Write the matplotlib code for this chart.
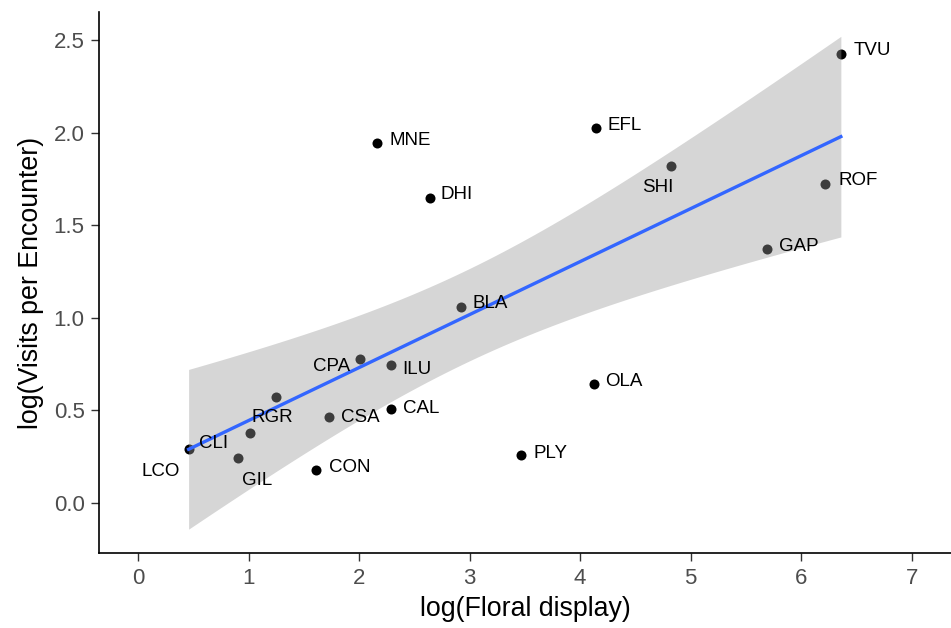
import numpy as np
import matplotlib
matplotlib.use('Agg')
import matplotlib.pyplot as plt

plt.rcParams['font.family'] = ['Liberation Sans', 'DejaVu Sans']

# species codes, log floral display, log visits per encounter
codes = ['TVU', 'EFL', 'MNE', 'SHI', 'ROF', 'DHI', 'GAP', 'BLA', 'CPA', 'ILU',
         'OLA', 'CAL', 'CSA', 'RGR', 'CLI', 'GIL', 'LCO', 'CON', 'PLY']
floral = [6.358, 4.142, 2.161, 4.823, 6.219, 2.643, 5.689, 2.921, 2.010, 2.291,
          4.121, 2.288, 1.724, 1.246, 1.015, 0.901, 0.458, 1.606, 3.467]
visits = [2.423, 2.026, 1.942, 1.820, 1.722, 1.645, 1.370, 1.058, 0.776, 0.745,
          0.641, 0.508, 0.463, 0.574, 0.380, 0.245, 0.292, 0.177, 0.259]

# label placement (pixels from point: dx, dy of text centre, alignment)
label_pos = {
    'TVU': (12.6, 6, 'left'), 'EFL': (11.6, 4.7, 'left'), 'MNE': (12.6, 5, 'left'),
    'SHI': (-13, -19, 'center'), 'ROF': (13, 5.7, 'left'), 'DHI': (10.3, 5.6, 'left'),
    'GAP': (12.6, 5.3, 'left'), 'BLA': (12, 6, 'left'), 'CPA': (-10, -5.4, 'right'),
    'ILU': (10.7, -2, 'left'), 'OLA': (12, 5, 'left'), 'CAL': (12, 2.7, 'left'),
    'CSA': (12.7, 1.5, 'left'), 'RGR': (-3.7, -18.3, 'center'), 'CLI': (-22, -9, 'right'),
    'GIL': (19.4, -20.3, 'center'), 'LCO': (-8.3, -20, 'right'), 'CON': (13.4, 4.8, 'left'),
    'PLY': (12, 4, 'left'),
}

x = np.array(floral)
y = np.array(visits)

# linear fit with 95% confidence band (like geom_smooth(method='lm'))
n = len(x)
b1, b0 = np.polyfit(x, y, 1)
resid = y - (b0 + b1 * x)
s = np.sqrt(np.sum(resid ** 2) / (n - 2))
xs = np.linspace(x.min(), x.max(), 80)
ys = b0 + b1 * xs
tcrit = 2.1098  # t(0.975, df=17)
se = s * np.sqrt(1 / n + (xs - x.mean()) ** 2 / np.sum((x - x.mean()) ** 2))

fig = plt.figure(figsize=(9.51, 6.28), dpi=100)
ax = fig.add_axes([0.1044, 0.1194, 0.8951, 0.8615])

ax.scatter(x, y, s=52, color='black', zorder=2, linewidths=0)
ax.fill_between(xs, ys - tcrit * se, ys + tcrit * se, color='#999999', alpha=0.4,
                linewidth=0, zorder=3)
ax.plot(xs, ys, color='#3366FF', linewidth=2.4, zorder=4)

fs = 13.5
cap = 0.716 * fs * 100 / 72
for c, xi, yi in zip(codes, x, y):
    dx, dy, ha = label_pos[c]
    ax.annotate(c, (xi, yi), xytext=(dx, dy - cap / 2), textcoords='offset pixels',
                ha=ha, va='baseline', fontsize=fs, color='black', zorder=5)

ax.set_xlim(-0.35, 7.35)
ax.set_ylim(-0.27, 2.651)
ax.set_xticks(range(0, 8))
ax.set_yticks([0.0, 0.5, 1.0, 1.5, 2.0, 2.5])
ax.set_yticklabels(['0.0', '0.5', '1.0', '1.5', '2.0', '2.5'])

for side in ['top', 'right']:
    ax.spines[side].set_visible(False)
for side in ['left', 'bottom']:
    ax.spines[side].set_linewidth(1.2)
ax.tick_params(length=5.5, width=1.0, color='#333333', labelcolor='#4D4D4D',
               labelsize=16, pad=5)

ax.set_xlabel('log(Floral display)', fontsize=19.3, labelpad=5)
ax.set_ylabel('log(Visits per Encounter)', fontsize=19.3, labelpad=7)

fig.savefig('out.png', dpi=100)
